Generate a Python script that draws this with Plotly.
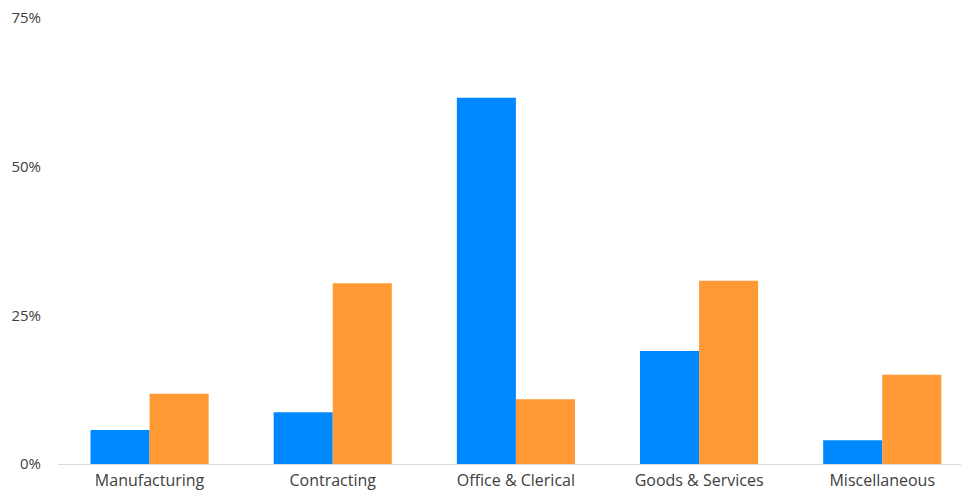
import plotly.graph_objects as go

categories = ["Manufacturing", "Contracting", "Office & Clerical", "Goods & Services", "Miscellaneous"]
series_a = [5.7, 8.7, 61.6, 19.0, 4.0]
series_b = [11.8, 30.4, 10.9, 30.8, 15.0]
y_ticks = [0, 25, 50, 75]
y_tick_text = ["0%", "25%", "50%", "75%"]

fig = go.Figure()
fig.add_trace(go.Bar(x=categories, y=series_a, marker=dict(color="#0088FF", line=dict(width=0)), showlegend=False))
fig.add_trace(go.Bar(x=categories, y=series_b, marker=dict(color="#FF9933", line=dict(width=0)), showlegend=False))

fig.update_layout(
    width=961, height=495,
    margin=dict(l=58, r=0, t=18, b=31),
    barmode="group", bargap=0.355, bargroupgap=0,
    plot_bgcolor="white", paper_bgcolor="white",
    font=dict(family="Open Sans, Noto Sans, sans-serif", size=15, color="#404040"),
    xaxis=dict(range=[-0.5, 4.43], showline=True, linecolor="#D9D9D9", linewidth=1,
               showgrid=False, ticks="", ticklabelstandoff=2, automargin=False,
               tickfont=dict(size=16)),
    yaxis=dict(range=[0, 75], tickvals=y_ticks, ticktext=y_tick_text, showgrid=False,
               zeroline=False, ticks="", ticklabelstandoff=16, automargin=False,
               tickfont=dict(size=15)),
)
fig.write_html("out.html")
